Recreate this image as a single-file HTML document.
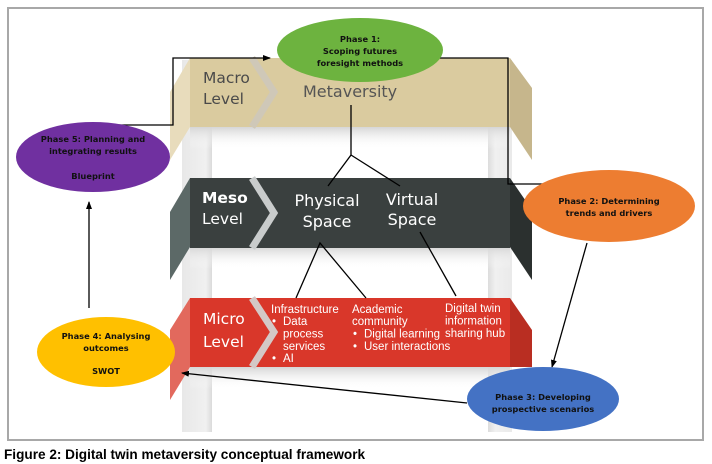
<!DOCTYPE html>
<html><head><meta charset="utf-8"><style>
html,body{margin:0;padding:0;background:#fff;width:712px;height:464px;overflow:hidden}
svg{display:block}
</style></head><body>
<svg width="712" height="464" viewBox="0 0 712 464" xmlns="http://www.w3.org/2000/svg" font-family="Liberation Sans, DejaVu Sans, sans-serif">
<defs>
<linearGradient id="pl" x1="0" x2="1"><stop offset="0" stop-color="#e8e8e8"/><stop offset="0.8" stop-color="#f0f0f0"/><stop offset="1" stop-color="#dadada"/></linearGradient>
<linearGradient id="pr" x1="0" x2="1"><stop offset="0" stop-color="#dcdcdc"/><stop offset="0.3" stop-color="#f0f0f0"/><stop offset="1" stop-color="#eaeaea"/></linearGradient>
<linearGradient id="sh" x1="0" y1="0" x2="0" y2="1"><stop offset="0" stop-color="#d6d6d6"/><stop offset="1" stop-color="#fff" stop-opacity="0"/></linearGradient>
<marker id="a" markerWidth="8" markerHeight="8" refX="7" refY="4" orient="auto" markerUnits="userSpaceOnUse"><path d="M0,1 L8,4 L0,7z" fill="#000"/></marker>
</defs>
<rect x="8" y="8" width="695" height="432" fill="#fff" stroke="#a8a8a8" stroke-width="2"/>
<rect x="182" y="60" width="30" height="372" fill="url(#pl)"/>
<rect x="488" y="60" width="24" height="372" fill="url(#pr)"/>
<rect x="190" y="127" width="320" height="22" fill="url(#sh)"/>
<rect x="190" y="247" width="320" height="22" fill="url(#sh)"/>
<rect x="190" y="367" width="320" height="22" fill="url(#sh)"/>
<polygon points="170,92 190,58 190,127 170,160" fill="#e8dcbc"/>
<polygon points="510,58 532,88 532,160 510,127" fill="#c6b68c"/>
<rect x="190" y="58" width="320" height="69" fill="#dacb9f"/>
<polyline points="252,58 274,92 252,127" fill="none" stroke="#cfc8b8" stroke-width="7"/>
<polygon points="170,212 190,178 190,247 170,280" fill="#5c6967"/>
<polygon points="510,178 532,210 532,280 510,247" fill="#2b302f"/>
<rect x="190" y="178" width="320" height="70" fill="#3a403f"/>
<polyline points="252,178 274,213 252,248" fill="none" stroke="#c9cccc" stroke-width="7"/>
<polygon points="170,330 190,298 190,367 170,400" fill="#e2695d"/>
<polygon points="510,298 532,330 532,367 510,367" fill="#b92e22"/>
<rect x="190" y="298" width="320" height="69" fill="#d9372a"/>
<polyline points="252,298 274,332 252,367" fill="none" stroke="#d4c8c6" stroke-width="7"/>
<g font-family="DejaVu Sans, Liberation Sans, sans-serif" font-size="15.5">
<text x="203" y="83" fill="#4a4a4a">Macro</text><text x="203" y="104" fill="#4a4a4a">Level</text>
<text x="303" y="97" fill="#555" font-size="16">Metaversity</text>
<text x="202" y="203" fill="#fff" font-weight="bold">Meso</text><text x="202" y="224" fill="#fff">Level</text>
<text x="327" y="206" fill="#fff" text-anchor="middle" font-size="16">Physical</text><text x="327" y="227" fill="#fff" text-anchor="middle" font-size="16">Space</text>
<text x="412" y="205" fill="#fff" text-anchor="middle" font-size="16">Virtual</text><text x="412" y="225" fill="#fff" text-anchor="middle" font-size="16">Space</text>
<text x="203" y="324" fill="#fff">Micro</text><text x="203" y="347" fill="#fff">Level</text>
</g>
<g font-family="Liberation Sans, sans-serif" font-size="11.5" fill="#fff">
<text x="271" y="313">Infrastructure</text>
<text x="272" y="325">•</text><text x="283" y="325">Data</text>
<text x="283" y="337.5">process</text>
<text x="283" y="350">services</text>
<text x="272" y="362">•</text><text x="283" y="362">AI</text>
<text x="352" y="313">Academic</text>
<text x="352" y="325">community</text>
<text x="353" y="337.5">•</text><text x="364" y="337.5">Digital learning</text>
<text x="353" y="350">•</text><text x="364" y="350">User interactions</text>
<text x="445" y="312">Digital twin</text>
<text x="445" y="324.5">information</text>
<text x="445" y="337">sharing hub</text>
</g>
<g stroke="#000" stroke-width="1.3" fill="none">
<polyline points="351,105 351,155 328,186"/><line x1="351" y1="155" x2="400" y2="186"/>
<polyline points="296,298 320,243 366,298"/>
<line x1="420" y1="232" x2="456" y2="296"/>
</g>
<g stroke="#000" stroke-width="1.3" fill="none">
<polyline points="77,125 173,125 173,58 270,58" marker-end="url(#a)"/>
<polyline points="437,58 508,58 508,184 575,184" marker-end="url(#a)"/>
<line x1="587" y1="243" x2="552" y2="367" marker-end="url(#a)"/>
<line x1="467" y1="403" x2="182" y2="373" marker-end="url(#a)"/>
<line x1="89" y1="308" x2="89" y2="202" marker-end="url(#a)"/>
</g>
<g font-family="DejaVu Sans, Liberation Sans, sans-serif" font-size="8.3" font-weight="bold" fill="#111" text-anchor="middle">
<ellipse cx="360" cy="50" rx="83" ry="32" fill="#6db33f"/>
<text x="360" y="42">Phase 1:</text><text x="360" y="54">Scoping futures</text><text x="360" y="66">foresight methods</text>
<ellipse cx="609" cy="206" rx="86" ry="36" fill="#ed7d31"/>
<text x="609" y="204">Phase 2: Determining</text><text x="609" y="216">trends and drivers</text>
<ellipse cx="543" cy="399" rx="76" ry="32" fill="#4472c4"/>
<text x="543" y="400">Phase 3: Developing</text><text x="543" y="412">prospective scenarios</text>
<ellipse cx="106" cy="352" rx="69" ry="35" fill="#ffc000"/>
<text x="106" y="339">Phase 4: Analysing</text><text x="106" y="351">outcomes</text><text x="106" y="374">SWOT</text>
<ellipse cx="93" cy="157" rx="77" ry="35" fill="#7030a0"/>
<text x="93" y="142">Phase 5: Planning and</text><text x="93" y="154">integrating results</text><text x="93" y="179">Blueprint</text>
</g>
<text x="4" y="459" font-family="Liberation Sans, Arial, sans-serif" font-size="13.6" font-weight="bold" fill="#000">Figure 2: Digital twin metaversity conceptual framework</text>
</svg>
</body></html>
